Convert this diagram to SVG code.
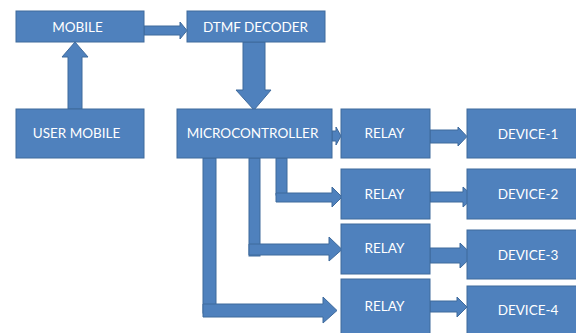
<svg xmlns="http://www.w3.org/2000/svg" width="576" height="333" viewBox="0 0 576 333">
<style>
.box{fill:#4F81BD;stroke:#3F6A9C;stroke-width:1}
.arr{fill:#4F81BD;stroke:#3F6A9C;stroke-width:1;stroke-linejoin:miter}
.lbl{fill:#FFFFFF;font-family:Lato,"Liberation Sans",sans-serif;font-size:13.5px;text-anchor:middle}
</style>
<rect width="576" height="333" fill="#FFFFFF"/>
<g id="connectors">
<polygon class="arr" points="144,26 180,26 180,22 187,30.5 180,39 180,35 144,35"/>
<polygon class="arr" points="68,109 68,57 62,57 75,42 88,57 82,57 82,109"/>
<polygon class="arr" points="243,42 265,42 265,90 271,90 254,110 236,90 243,90"/>
<polygon class="arr" points="332,131 336,131 336,127 341,136 336,145 336,141 332,141"/>
<polygon class="arr" points="430,130 458,130 458,127 467,136.5 458,146 458,143 430,143"/>
<polygon class="arr" points="430,192 463,192 463,187 474,197 463,207 463,202 430,202"/>
<polygon class="arr" points="430,248 460,248 460,243 473,255.5 460,268 460,263 430,263"/>
<polygon class="arr" points="430,301 457,301 457,297 467,307 457,317 457,312 430,312"/>
<rect class="arr" x="276" y="158" width="11" height="37"/>
<polygon class="arr" points="276,193 332,193 332,187 342,197 332,207 332,202 276,202"/>
<rect class="arr" x="249" y="158" width="11" height="98"/>
<polygon class="arr" points="249,244 329,244 329,237 342,249.5 329,261 329,255 249,255"/>
<rect class="arr" x="203" y="158" width="13" height="155"/>
<polygon class="arr" points="203,304 323,304 323,297 337,310.5 323,323 323,317 203,317"/>
</g>
<g id="mobile"><rect class="box" x="16" y="11" width="128" height="31"/><text class="lbl" x="77.5" y="31.5">MOBILE</text></g>
<g id="dtmf-decoder"><rect class="box" x="187" y="11" width="138" height="31"/><text class="lbl" x="255.5" y="31.5">DTMF DECODER</text></g>
<g id="user-mobile"><rect class="box" x="16" y="109" width="128" height="49"/><text class="lbl" x="76.5" y="138">USER MOBILE</text></g>
<g id="microcontroller"><rect class="box" x="177" y="109" width="155" height="49"/><text class="lbl" x="252.5" y="138">MICROCONTROLLER</text></g>
<g id="relay-1"><rect class="box" x="341" y="109" width="89" height="49"/><text class="lbl" x="384.5" y="138.3">RELAY</text></g>
<g id="relay-2"><rect class="box" x="341" y="169" width="89" height="50"/><text class="lbl" x="384.5" y="198.6">RELAY</text></g>
<g id="relay-3"><rect class="box" x="341" y="224" width="89" height="50"/><text class="lbl" x="384.5" y="253">RELAY</text></g>
<g id="relay-4"><rect class="box" x="341" y="279" width="89" height="60"/><text class="lbl" x="384.5" y="311">RELAY</text></g>
<g id="device-1"><rect class="box" x="467" y="109" width="130" height="49"/><text class="lbl" x="528" y="138.6">DEVICE-1</text></g>
<g id="device-2"><rect class="box" x="467" y="169" width="130" height="50"/><text class="lbl" x="528" y="199">DEVICE-2</text></g>
<g id="device-3"><rect class="box" x="467" y="230" width="130" height="49"/><text class="lbl" x="528" y="260">DEVICE-3</text></g>
<g id="device-4"><rect class="box" x="467" y="286" width="130" height="60"/><text class="lbl" x="528" y="315">DEVICE-4</text></g>
</svg>
